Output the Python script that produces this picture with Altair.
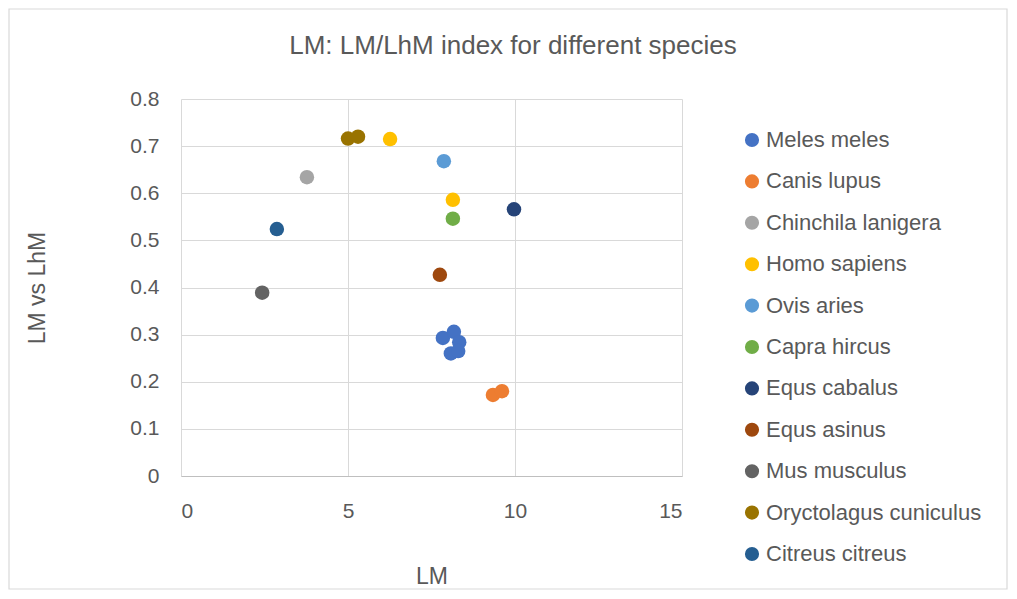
import altair as alt
import pandas as pd

species_order = ["Meles meles", "Canis lupus", "Chinchila lanigera", "Homo sapiens",
                 "Ovis aries", "Capra hircus", "Equs cabalus", "Equs asinus",
                 "Mus musculus", "Oryctolagus cuniculus", "Citreus citreus"]
colors = ["#4472C4", "#ED7D31", "#A5A5A5", "#FFC000", "#5B9BD5", "#70AD47",
          "#264478", "#9E480E", "#636363", "#997300", "#255E91"]

species = ["Meles meles"] * 5 + ["Canis lupus"] * 2 + ["Chinchila lanigera"] + \
          ["Homo sapiens"] * 2 + ["Ovis aries", "Capra hircus", "Equs cabalus", "Equs asinus",
                                  "Mus musculus"] + ["Oryctolagus cuniculus"] * 2 + ["Citreus citreus"]
lm = [7.84, 8.17, 8.33, 8.08, 8.30, 9.34, 9.61, 3.77, 6.26, 8.14, 7.87, 8.14, 9.97, 7.75,
      2.43, 5.0, 5.3, 2.87]
ratio = [0.293, 0.306, 0.284, 0.260, 0.265, 0.172, 0.180, 0.634, 0.715, 0.586, 0.668, 0.546,
         0.566, 0.427, 0.389, 0.716, 0.720, 0.524]

title_text = "LM: LM/LhM index for different species"

df = pd.DataFrame({"species": species, "LM": lm, "ratio": ratio})

FONT = "Liberation Sans"
GREY = "#595959"

frame = alt.Chart(pd.DataFrame({"a": [0]})).mark_rect(
    fill="transparent", stroke="#D9D9D9", strokeWidth=1.2, clip=False
).encode(x=alt.value(-172), x2=alt.value(826), y=alt.value(-90), y2=alt.value(490))

title = alt.Chart(pd.DataFrame({"t": [title_text]})).mark_text(
    font=FONT, fontSize=26, color=GREY, align="center", baseline="middle", clip=False
).encode(text="t:N", x=alt.value(332), y=alt.value(-53))

points = alt.Chart(df).mark_circle(size=210, opacity=1).encode(
    x=alt.X("LM:Q", title="LM",
            scale=alt.Scale(domain=[0, 15], nice=False),
            axis=alt.Axis(values=[0, 5, 10, 15], grid=True, gridColor="#D9D9D9",
                          domain=True, domainColor="#BFBFBF", domainWidth=1.2,
                          ticks=False, labelPadding=24, titlePadding=44)),
    y=alt.Y("ratio:Q", title="LM vs LhM",
            scale=alt.Scale(domain=[0, 0.8], nice=False),
            axis=alt.Axis(values=[0, 0.1, 0.2, 0.3, 0.4, 0.5, 0.6, 0.7, 0.8],
                          labelExpr="datum.value == 0 ? '0' : format(datum.value, '.1f')",
                          grid=True, gridColor="#D9D9D9", domain=False, ticks=False,
                          labelPadding=22, titlePadding=80)),
    color=alt.Color("species:N", title=None,
                    scale=alt.Scale(domain=species_order, range=colors),
                    legend=alt.Legend(orient="none", legendX=560, legendY=30,
                                      symbolType="circle", symbolSize=200,
                                      labelFontSize=22, labelColor=GREY,
                                      labelFont=FONT, rowPadding=19.4, labelOffset=3,
                                      labelLimit=400, symbolStrokeWidth=0)),
)

chart = alt.layer(frame, title, points).properties(
    width=501, height=377,
    padding=0,
    autosize=alt.AutoSizeParams(type="pad"),
    background="white",
).configure_view(stroke=None).configure_axis(
    labelFont=FONT, titleFont=FONT, labelFontSize=21, titleFontSize=23,
    labelColor=GREY, titleColor=GREY, titleFontWeight="normal"
)

chart.save("out.html", embed_options={"renderer": "svg", "actions": False})
